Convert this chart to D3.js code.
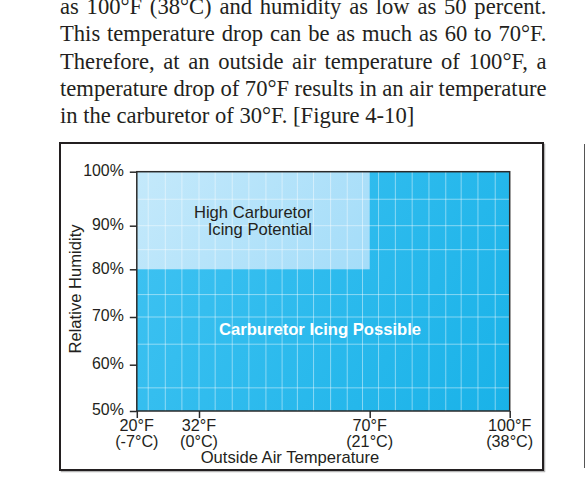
<!DOCTYPE html>
<html>
<head>
<meta charset="utf-8">
<script src="https://cdn.jsdelivr.net/npm/d3@7"></script>
<style>
html,body{margin:0;padding:0;background:#fff;}
svg{display:block;}
.lbl{font-family:"Liberation Sans",Arial,sans-serif;fill:#231f20;}
.body{font-family:"Liberation Serif","Times New Roman",serif;fill:#231f20;font-size:22.6px;}
</style>
</head>
<body>
<div class="container"></div>
<script>
// values
const bodyLines=[
  "as 100°F (38°C) and humidity as low as 50 percent.",
  "This temperature drop can be as much as 60 to 70°F.",
  "Therefore, at an outside air temperature of 100°F, a",
  "temperature drop of 70°F results in an air temperature",
  "in the carburetor of 30°F. [Figure 4-10]"
];
const humidityTicks=[50,60,70,80,90,100];
const tempTicks=[20,32,70,100];
const tempLabels=["20°F","32°F","70°F","100°F"];
const tempLabelsC=["(-7°C)","(0°C)","(21°C)","(38°C)"];
const humidityGrid=[55,64.3,70,74.7,84.5,90,94.9];
const tempGrid=[22.2,25.5,28.7,32,35.6,39.4,43.1,46.9,50.5,53.9,57.5,61.3,65,68.4,71.9,75.5,79.1,82.7,86.3,89.6,93.2,96.9];
const possibleRegion=[20,100,50,100];
const highRegion=[20,70,80,100];

const width=585,height=488;
const labelSize="16.6px";

const svg=d3.select(".container").append("svg")
  .attr("width",width)
  .attr("height",height);

// the printed axes are not evenly spaced, so the scales are piecewise
const x=d3.scaleLinear().domain(tempTicks).range([136.8,199,369.7,509.7]);
const y=d3.scaleLinear().domain(humidityTicks).range([411,364.7,317,269.3,225.7,171.7]);

let defs=svg.append("defs");
let grad=(id,c1,c2)=>{
  let g=defs.append("linearGradient").attr("id",id).attr("gradientUnits","userSpaceOnUse")
    .attr("x1",x(20)).attr("y1",y(100)).attr("x2",x(100)).attr("y2",y(50));
  g.append("stop").attr("offset","0%").attr("stop-color",c1);
  g.append("stop").attr("offset","100%").attr("stop-color",c2);
};
grad("blue","#41c3f2","#19b2e8");
grad("pale","#c4e9fb","#8bd3f7");

// paragraph, justified by word spacing
const textRight=546.5,textLeft=60;
bodyLines.forEach((line,i)=>{
  let t=svg.append("text").attr("class","body")
    .attr("x",textLeft).attr("y",14.2+i*27.2).text(line);
  if(i<bodyLines.length-1){
    let spaces=line.split(" ").length-1;
    let w=t.node().getComputedTextLength();
    t.style("word-spacing",((textRight-textLeft-w)/spaces)+"px");
  }
});

// figure frame
svg.append("rect").attr("x",61.5).attr("y",144.5).attr("width",483).attr("height",327)
  .attr("fill","none").attr("stroke","#b5b5b5").attr("stroke-width",1.5);
svg.append("rect").attr("x",60).attr("y",143).attr("width",483).attr("height",327)
  .attr("fill","#fff").attr("stroke","#231f20").attr("stroke-width",2);

// edge of the next column
svg.append("line").attr("x1",584.5).attr("x2",584.5).attr("y1",144).attr("y2",468)
  .attr("stroke","#555").attr("stroke-width",1);

// regions
svg.append("rect")
  .attr("x",x(possibleRegion[0])).attr("width",x(possibleRegion[1])-x(possibleRegion[0]))
  .attr("y",y(possibleRegion[3])).attr("height",y(possibleRegion[2])-y(possibleRegion[3]))
  .attr("fill","url(#blue)");
svg.append("rect")
  .attr("x",x(highRegion[0])).attr("width",x(highRegion[1])-x(highRegion[0]))
  .attr("y",y(highRegion[3])).attr("height",y(highRegion[2])-y(highRegion[3]))
  .attr("fill","url(#pale)");

// grid
svg.selectAll("line.gx").data(tempGrid).enter().append("line")
  .attr("class","gx")
  .attr("x1",d=>x(d)).attr("x2",d=>x(d))
  .attr("y1",y(100)).attr("y2",y(50))
  .attr("stroke","#fff").attr("stroke-opacity",0.45).attr("stroke-width",1);
svg.selectAll("line.gy").data(humidityGrid).enter().append("line")
  .attr("class","gy")
  .attr("x1",x(20)).attr("x2",x(100))
  .attr("y1",d=>y(d)).attr("y2",d=>y(d))
  .attr("stroke","#fff").attr("stroke-opacity",0.45).attr("stroke-width",1);

// plot border
svg.append("rect")
  .attr("x",x(20)).attr("y",y(100))
  .attr("width",x(100)-x(20)).attr("height",y(50)-y(100))
  .attr("fill","none").attr("stroke","#2a2a2a").attr("stroke-width",1.5);

// axes
let yAxis=svg.append("g").attr("transform",`translate(${x(20)},0)`)
  .call(d3.axisLeft(y).tickValues(humidityTicks).tickFormat(d=>d+"%").tickSize(7).tickPadding(6));
let xAxis=svg.append("g").attr("transform",`translate(0,${y(50)})`)
  .call(d3.axisBottom(x).tickValues(tempTicks).tickFormat("").tickSize(7));

[yAxis,xAxis].forEach(a=>{
  a.select(".domain").remove();
  a.selectAll(".tick line").attr("stroke","#2a2a2a").attr("stroke-width",1.5);
});
yAxis.selectAll(".tick text").attr("class","lbl").style("font-size","15.9px")
  .attr("y",-1.3);

xAxis.selectAll(".tick").each(function(d,i){
  let tick=d3.select(this);
  tick.select("text").remove();
  tick.append("text").attr("class","lbl").attr("text-anchor","middle")
    .attr("x",-0.5).attr("y",19.7).style("font-size","16.2px").text(tempLabels[i]);
  tick.append("text").attr("class","lbl").attr("text-anchor","middle")
    .attr("x",-0.5).attr("y",36).style("font-size","16.2px").text(tempLabelsC[i]);
});

// titles and annotations
svg.append("text").attr("class","lbl")
  .attr("transform","translate(80.5,289) rotate(-90)")
  .attr("text-anchor","middle").style("font-size",labelSize).text("Relative Humidity");
svg.append("text").attr("class","lbl")
  .attr("x",290).attr("y",463).attr("text-anchor","middle")
  .style("font-size",labelSize).text("Outside Air Temperature");
svg.append("text").attr("class","lbl")
  .attr("x",312).attr("y",217.5).attr("text-anchor","end")
  .style("font-size",labelSize).text("High Carburetor");
svg.append("text").attr("class","lbl")
  .attr("x",312).attr("y",234.5).attr("text-anchor","end")
  .style("font-size",labelSize).text("Icing Potential");
svg.append("text")
  .attr("x",320).attr("y",335).attr("text-anchor","middle")
  .attr("font-family","'Liberation Sans',Arial,sans-serif").attr("font-weight","bold")
  .attr("fill","#fff").style("font-size",labelSize).text("Carburetor Icing Possible");
</script>
</body>
</html>
